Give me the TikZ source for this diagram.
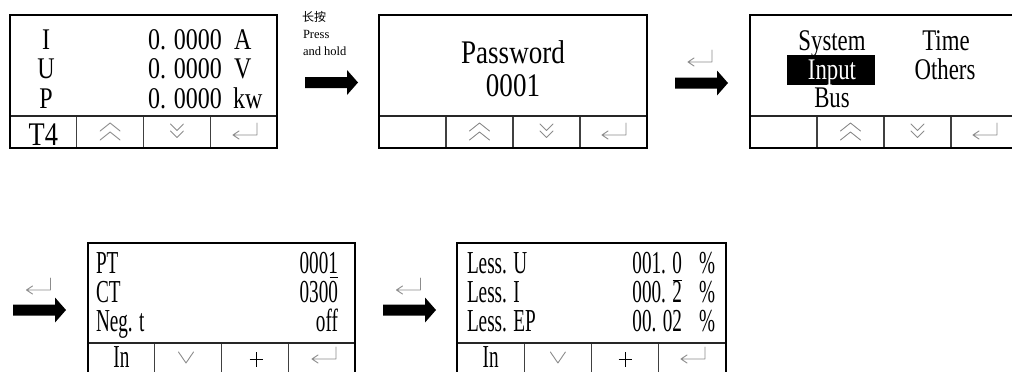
\documentclass[tikz,border=0pt]{standalone}
\usepackage{fontspec}
\setmainfont{Liberation Serif}
\newfontfamily\cjk{Noto Sans CJK SC}
\newfontfamily\lcdA[FakeStretch=0.80]{Liberation Serif}
\newfontfamily\lcdB[FakeStretch=0.82]{Liberation Serif}
\newfontfamily\lcdC[FakeStretch=0.76]{Liberation Serif}
\newfontfamily\lcdD[FakeStretch=0.60]{Liberation Serif}
\newcommand\scrframe[5]{%
  \draw[cellline] ({#1+#5/4},#3) -- ({#1+#5/4},#4)
                  ({#1+#5/2},#3) -- ({#1+#5/2},#4)
                  ({#1+3*#5/4},#3) -- ({#1+3*#5/4},#4);
  \draw[sepline] (#1,#3) -- ({#1+#5},#3);
  \draw[frameline] (#1,#2) rectangle ({#1+#5},#4);
}
\tikzset{
  frameline/.style={line width=2pt, black},
  sepline/.style={line width=1.5pt, black!85},
  cellline/.style={line width=1.1pt, black!75},
  icon/.style={line width=0.9pt, black!45, line cap=round, line join=round},
  txt/.style={inner sep=0pt, outer sep=0pt, text depth=0pt},
  fA/.style={font=\lcdA\fontsize{30}{30}\selectfont, text height=20pt},
  fB/.style={font=\lcdB\fontsize{33}{33}\selectfont, text height=22pt},
  fC/.style={font=\lcdC\fontsize{30}{30}\selectfont, text height=20pt},
  fD/.style={font=\lcdD\fontsize{32}{32}\selectfont, text height=21pt},
  fT/.style={font=\fontsize{12.5}{12.5}\selectfont},
  upchev/.pic={\draw[icon] (-10,-1) -- (0,-9) -- (10,-1) (-10,8) -- (0,0) -- (10,8);},
  downchev/.pic={\draw[icon] (-6.5,-8) -- (0,-1.5) -- (6.5,-8) (-6.5,-1) -- (0,5.5) -- (6.5,-1);},
  onechev/.pic={\draw[icon] (-7.5,-5.5) -- (0,5.5) -- (7.5,-5.5);},
  plusicon/.pic={\draw[line width=1pt, black] (-6.5,0) -- (6.5,0) (0,-7.5) -- (0,7.5);},
  retn/.pic={\draw[icon] (12,-9) -- (12,3) -- (-12,3) (-6,-1) -- (-12,3) -- (-6,7);},
  bigarrow/.pic={\fill[black] (0,-5.5) -- (42,-5.5) -- (42,-12.5) -- (53,0) -- (42,12.5) -- (42,5.5) -- (0,5.5) -- cycle;}
}
\begin{document}
\begin{tikzpicture}[x=1pt,y=-1pt]
\useasboundingbox (0,0) rectangle (1012,372);
\fill[white] (0,0) rectangle (1012,372);
\clip (0,0) rectangle (1012,372);

% ---------- screen 1 ----------
\scrframe{10}{15}{116}{148}{267}
\node[txt,fA,anchor=base] (s1l1) at (46,49) {I};
\node[txt,fA,anchor=base] (s1l2) at (46,78.5) {U};
\node[txt,fA,anchor=base] (s1l3) at (46,108) {P};
\node[txt,fA,anchor=base east] (s1v1) at (222,49) {0. 0000};
\node[txt,fA,anchor=base east] (s1v2) at (222,78.5) {0. 0000};
\node[txt,fA,anchor=base east] (s1v3) at (222,108) {0. 0000};
\node[txt,fA,anchor=base west] (s1u1) at (234,49) {A};
\node[txt,fA,anchor=base west] (s1u2) at (234,78.5) {V};
\node[txt,fA,anchor=base west] (s1u3) at (233,108) {kw};
\node[txt,fA,anchor=base,font=\lcdA\fontsize{33}{33}\selectfont] (s1b1) at (43.4,145.5) {T4};
\pic at (110.1,132) {upchev};
\pic at (176.9,132) {downchev};
\pic at (245,132) {retn};

% ---------- arrow 1 + label ----------
\node[txt,font=\cjk\fontsize{12}{12}\selectfont,anchor=base west] (lab1) at (302,21) {长按};
\node[txt,fT,anchor=base west] (lab2) at (303,38) {Press};
\node[txt,fT,anchor=base west] (lab3) at (303,55) {and hold};
\pic at (305,82.5) {bigarrow};

% ---------- screen 2 ----------
\scrframe{379}{15}{116}{148}{268}
\node[txt,fB,anchor=base] (s2t1) at (513,63) {Password};
\node[txt,fB,anchor=base] (s2t2) at (513,96.5) {0001};
\pic at (479.5,132) {upchev};
\pic at (546.5,132) {downchev};
\pic at (614,132) {retn};

% ---------- arrow 2 ----------
\pic at (700,59) {retn};
\pic at (675,83) {bigarrow};

% ---------- screen 3 ----------
\scrframe{750}{15}{116}{148}{268}
\fill[black] (787,55) rectangle (875,85);
\node[txt,fC,anchor=base] (s3a) at (832,50) {System};
\node[txt,fC,anchor=base,text=white] (s3b) at (832,79) {Input};
\node[txt,fC,anchor=base] (s3c) at (832,107) {Bus};
\node[txt,fC,anchor=base] (s3d) at (946,50) {Time};
\node[txt,fC,anchor=base] (s3e) at (945,79) {Others};
\pic at (850.5,132) {upchev};
\pic at (917.5,132) {downchev};
\pic at (985,132) {retn};

% ---------- arrow 4 ----------
\pic at (38.5,287) {retn};
\pic at (13,310) {bigarrow};

% ---------- screen 4 ----------
\scrframe{88}{243}{343}{378}{267}
\node[txt,fD,anchor=base west] (s4l1) at (96,273) {PT};
\node[txt,fD,anchor=base west] (s4l2) at (96,302) {CT};
\node[txt,fD,anchor=base west] (s4l3) at (96,331) {Neg. t};
\node[txt,fD,anchor=base east] (s4v1) at (338,273) {0001};
\node[txt,fD,anchor=base east] (s4v2) at (338,302) {0300};
\node[txt,fD,anchor=base east] (s4v3) at (338,331) {off};
\draw[line width=1.5pt] (329.5,277.5) -- (338,277.5);
\node[txt,fD,anchor=base] (s4b1) at (121.4,367) {In};
\pic at (186,357.5) {onechev};
\pic at (256,359.5) {plusicon};
\pic at (324,356) {retn};

% ---------- arrow 5 ----------
\pic at (408.5,287) {retn};
\pic at (383,310) {bigarrow};

% ---------- screen 5 ----------
\scrframe{457}{243}{343}{378}{269}
\node[txt,fD,anchor=base west] (s5l1) at (467,273) {Less. U};
\node[txt,fD,anchor=base west] (s5l2) at (467,302) {Less. I};
\node[txt,fD,anchor=base west] (s5l3) at (467,331) {Less. EP};
\node[txt,fD,anchor=base east] (s5v1) at (682,273) {001. 0};
\node[txt,fD,anchor=base east] (s5v2) at (682,302) {000. 2};
\node[txt,fD,anchor=base east] (s5v3) at (682,331) {00. 02};
\node[txt,fD,anchor=base] (s5u1) at (707,273) {\%};
\node[txt,fD,anchor=base] (s5u2) at (707,302) {\%};
\node[txt,fD,anchor=base] (s5u3) at (707,331) {\%};
\draw[line width=1.5pt] (672.5,280.5) -- (681.5,280.5);
\node[txt,fD,anchor=base] (s5b1) at (490.6,367) {In};
\pic at (557.9,357.5) {onechev};
\pic at (625.1,359.5) {plusicon};
\pic at (693,356) {retn};
\end{tikzpicture}
\end{document}
